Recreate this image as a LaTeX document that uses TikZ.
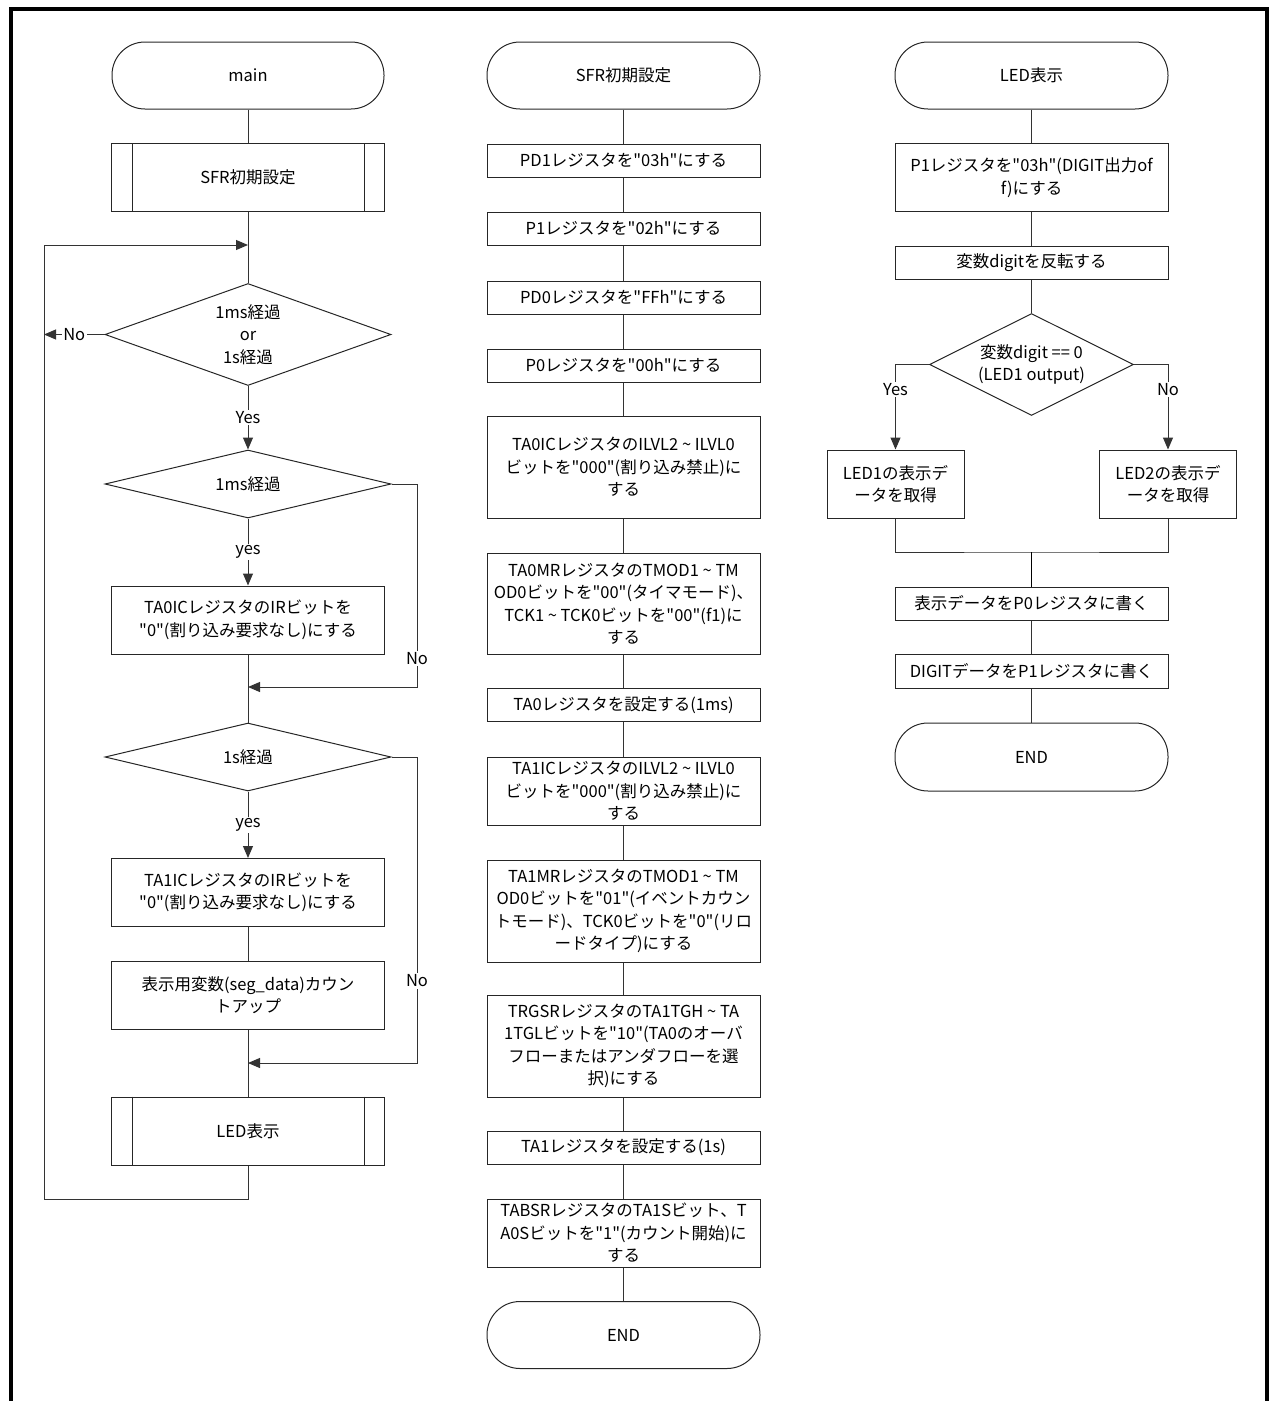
\documentclass[tikz,border=0pt]{standalone}
\usepackage{fontspec}
\setmainfont{Noto Sans CJK JP}[Ligatures=TeXOff]
\usetikzlibrary{shapes.geometric,arrows.meta}
\newcommand\tld{\char"007E\relax}
\begin{document}
\begin{tikzpicture}[x=1pt,y=-1pt,
  every node/.style={font=\fontsize{16.5}{22.5}\selectfont},
  base/.style={draw=black!85, line width=1pt, inner sep=0pt, align=center},
  term/.style={base, rectangle, rounded corners=33pt, minimum width=272pt, minimum height=67pt},
  proc/.style={base, rectangle, minimum width=273pt},
  pred/.style={proc},
  dec/.style={base, diamond, aspect=2.8},
  ln/.style={draw=black!80, line width=1pt},
  arr/.style={ln, -{Triangle[length=12pt,width=10pt]}},
  lbl/.style={fill=white, inner sep=1.5pt}
]
\useasboundingbox (0,0) rectangle (1273,1401);
\draw[line width=4pt] (10.5,1410) -- (10.5,9) -- (1267,9) -- (1267,1410);

% ---------------- left column: main ----------------
\node[term] (t1) at (248,75.5) {main};
\node[pred, minimum height=68pt] (s1) at (248,177.5) {SFR初期設定};
\node[dec, minimum width=286pt, minimum height=102pt] (d1) at (248,334.5) {1ms経過\\or\\1s経過};
\node[dec, minimum width=286pt, minimum height=68pt] (d2) at (248,484) {1ms経過};
\node[proc, minimum height=68pt] (p1) at (248,620) {TA0ICレジスタのIRビットを\\"0"(割り込み要求なし)にする};
\node[dec, minimum width=286pt, minimum height=68pt] (d3) at (248,757) {1s経過};
\node[proc, minimum height=68pt] (p2) at (248,892.5) {TA1ICレジスタのIRビットを\\"0"(割り込み要求なし)にする};
\node[proc, minimum height=68pt] (p3) at (248,995) {表示用変数(seg\_data)カウン\\トアップ};
\node[pred, minimum height=68pt] (l1) at (248,1131) {LED表示};
\foreach \n in {s1,l1}{
  \draw[base] ([xshift=21pt]\n.north west) -- ([xshift=21pt]\n.south west);
  \draw[base] ([xshift=-21pt]\n.north east) -- ([xshift=-21pt]\n.south east);
}
\coordinate (lt) at (44,245);
\coordinate (lb) at (44,1199);
\coordinate (loopin) at (248,245);
\coordinate (nol) at (44,334.5);
\coordinate (m1) at (248,687);
\coordinate (m2) at (248,1063);
\coordinate (r1) at (417,687);
\coordinate (r2) at (417,1063);

\draw[ln] (t1) -- (s1);
\draw[ln] (s1) -- (d1);
\draw[arr] (l1.south) |- (lb) -- (lt) -- (loopin);
\draw[arr] (d1.west) -- node[lbl]{No} (nol);
\draw[arr] (d1.south) -- node[lbl]{Yes} (d2.north);
\draw[arr] (d2.south) -- node[lbl]{yes} (p1.north);
\draw[arr] (d2.east) -| node[lbl,pos=0.93]{No} (r1) -- (m1);
\draw[ln] (p1) -- (d3);
\draw[arr] (d3.south) -- node[lbl]{yes} (p2.north);
\draw[ln] (p2) -- (p3);
\draw[arr] (d3.east) -| node[lbl,pos=0.866]{No} (r2) -- (m2);
\draw[ln] (p3) -- (l1);

% ---------------- middle column: SFR ----------------
\node[term, minimum width=273pt] (t2) at (623.5,75.5) {SFR初期設定};
\node[proc, minimum height=33pt] (b1) at (623.5,160.5) {PD1レジスタを"03h"にする};
\node[proc, minimum height=33pt] (b2) at (623.5,228.5) {P1レジスタを"02h"にする};
\node[proc, minimum height=33pt] (b3) at (623.5,297.5) {PD0レジスタを"FFh"にする};
\node[proc, minimum height=33pt] (b4) at (623.5,365.5) {P0レジスタを"00h"にする};
\node[proc, minimum height=102pt] (b5) at (623.5,467) {TA0ICレジスタのILVL2 \tld{} ILVL0\\ビットを"000"(割り込み禁止)に\\する};
\node[proc, minimum height=101pt] (b6) at (623.5,603.5) {TA0MRレジスタのTMOD1 \tld{} TM\\OD0ビットを"00"(タイマモード)、\\TCK1 \tld{} TCK0ビットを"00"(f1)に\\する};
\node[proc, minimum height=33pt] (b7) at (623.5,705) {TA0レジスタを設定する(1ms)};
\node[proc, minimum height=68pt] (b8) at (623.5,791) {TA1ICレジスタのILVL2 \tld{} ILVL0\\ビットを"000"(割り込み禁止)に\\する};
\node[proc, minimum height=102pt] (b9) at (623.5,911) {TA1MRレジスタのTMOD1 \tld{} TM\\OD0ビットを"01"(イベントカウン\\トモード)、TCK0ビットを"0"(リロ\\ードタイプ)にする};
\node[proc, minimum height=102pt] (b10) at (623.5,1046) {TRGSRレジスタのTA1TGH \tld{} TA\\1TGLビットを"10"(TA0のオーバ\\フローまたはアンダフローを選\\択)にする};
\node[proc, minimum height=33pt] (b11) at (623.5,1147.5) {TA1レジスタを設定する(1s)};
\node[proc, minimum height=68pt] (b12) at (623.5,1233) {TABSRレジスタのTA1Sビット、T\\A0Sビットを"1"(カウント開始)に\\する};
\node[term, minimum width=273pt] (t2e) at (623.5,1335) {END};
\foreach \a/\b in {t2/b1,b1/b2,b2/b3,b3/b4,b4/b5,b5/b6,b6/b7,b7/b8,b8/b9,b9/b10,b10/b11,b11/b12,b12/t2e}{
  \draw[ln] (\a) -- (\b);
}

% ---------------- right column: LED ----------------
\node[term, minimum width=273pt] (t3) at (1031.5,75.5) {LED表示};
\node[proc, minimum height=68pt] (q1) at (1031.5,177.5) {P1レジスタを"03h"(DIGIT出力of\\f)にする};
\node[proc, minimum height=33pt] (q2) at (1031.5,262.5) {変数digitを反転する};
\node[base, diamond, aspect=2, minimum width=204pt, minimum height=102pt] (d4) at (1031.5,364.5) {変数digit == 0\\(LED1 output)};
\node[proc, minimum width=137pt, minimum height=68pt] (e1) at (895.5,484) {LED1の表示デ\\ータを取得};
\node[proc, minimum width=137pt, minimum height=68pt] (e2) at (1168,484) {LED2の表示デ\\ータを取得};
\coordinate (mj) at (1031.5,552);
\node[proc, minimum height=33pt] (w0) at (1031.5,603.5) {表示データをP0レジスタに書く};
\node[proc, minimum height=34pt] (w1) at (1031.5,671) {DIGITデータをP1レジスタに書く};
\node[term, minimum width=273pt, minimum height=68pt] (t3e) at (1031.5,757) {END};

\draw[ln] (t3) -- (q1);
\draw[ln] (q1) -- (q2);
\draw[ln] (q2) -- (d4);
\draw[arr] (d4.west) -| node[lbl,pos=0.645]{Yes} (e1.north);
\draw[arr] (d4.east) -| node[lbl,pos=0.645]{No} (e2.north);
\draw[ln] (e1.south) |- (mj) -| (e2.south);
\draw[ln, draw=black, line width=1.4pt] (mj) -- (w0.north);
\draw[ln] (w0) -- (w1);
\draw[ln] (w1) -- (t3e);
\end{tikzpicture}
\end{document}
